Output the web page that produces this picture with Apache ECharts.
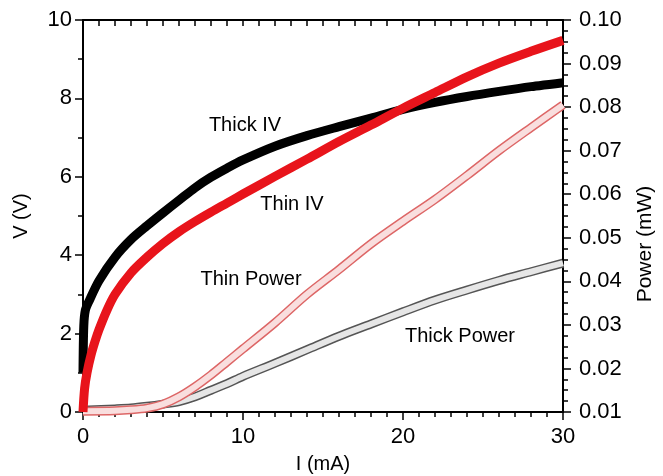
<!DOCTYPE html>
<html>
<head>
<meta charset="utf-8">
<script src="https://cdn.jsdelivr.net/npm/echarts@6/dist/echarts.min.js"></script>
<style>html,body{margin:0;padding:0;background:#fff}#c{width:663px;height:476px}</style>
</head>
<body>
<div id="c"></div>
<script>
// Thick IV (black)
const thickIVCurrent = [0, 0.05, 0.15, 0.4, 1, 2, 3, 4, 5, 6, 7, 8, 9, 10, 12, 14, 16, 18, 20, 22, 24, 26, 28, 30];
const thickIVVoltage = [1.0, 2.2, 2.6, 2.85, 3.35, 3.95, 4.4, 4.75, 5.08, 5.4, 5.72, 5.99, 6.22, 6.43, 6.78, 7.05, 7.28, 7.5, 7.72, 7.9, 8.05, 8.18, 8.3, 8.4];
// Thin IV (red)
const thinIVCurrent = [0, 0.1, 0.25, 0.5, 0.75, 1, 1.5, 2, 3, 4, 5, 6, 7, 8, 9, 10, 12, 14, 16, 18, 20, 22, 24, 26, 28, 30];
const thinIVVoltage = [0, 0.6, 1.0, 1.45, 1.8, 2.1, 2.6, 3.0, 3.55, 3.95, 4.3, 4.6, 4.86, 5.1, 5.33, 5.56, 6.01, 6.45, 6.9, 7.32, 7.75, 8.15, 8.55, 8.9, 9.2, 9.48];
// Power (mW)
const powerCurrent = [0, 2, 3, 4, 5, 6, 7, 8, 9, 10, 12, 14, 16, 18, 20, 22, 24, 26, 28, 30];
const thinPower = [0.0102, 0.0103, 0.0105, 0.0109, 0.0118, 0.0135, 0.0158, 0.0185, 0.0215, 0.0245, 0.0305, 0.037, 0.0427, 0.0486, 0.0538, 0.0588, 0.0643, 0.07, 0.0753, 0.0805];
const thickPower = [0.0104, 0.0107, 0.0109, 0.0113, 0.0118, 0.0124, 0.0135, 0.015, 0.0165, 0.0182, 0.0212, 0.0243, 0.0274, 0.0302, 0.033, 0.0357, 0.038, 0.0402, 0.0422, 0.0442];
// axis ticks
const xTicks = [0, 10, 20, 30];
const vTicks = [0, 2, 4, 6, 8, 10];
const pTicks = [0.01, 0.02, 0.03, 0.04, 0.05, 0.06, 0.07, 0.08, 0.09, 0.10];
// annotations
const annotations = ['Thick IV', 'Thin IV', 'Thin Power', 'Thick Power'];
const powerAxisName = 'Power (mW)';

const zip = (a, b) => a.map((v, i) => [v, b[i]]);
const FONT = 'Liberation Sans, Arial, sans-serif';
const axisLine = {show: true, onZero: false, lineStyle: {color: '#000', width: 2}};
const SM = 0.3;

const chart = echarts.init(document.getElementById('c'));
chart.setOption({
  animation: false,
  backgroundColor: '#fff',
  grid: {left: 83, right: 100, top: 20, bottom: 64, containLabel: false, outerBoundsMode: 'none'},
  xAxis: [{
    type: 'value', min: xTicks[0], max: xTicks[xTicks.length - 1], interval: 10,
    position: 'bottom',
    name: 'I (mA)', nameLocation: 'middle', nameGap: 42,
    nameTextStyle: {fontFamily: FONT, fontSize: 20, color: '#000'},
    axisLine: axisLine,
    axisTick: {show: true, inside: false, length: 8, lineStyle: {color: '#000', width: 1.5}},
    minorTick: {show: true, splitNumber: 10, length: 5, lineStyle: {color: '#000', width: 1.5}},
    axisLabel: {fontFamily: FONT, fontSize: 22, color: '#000', margin: 14},
    splitLine: {show: false}, minorSplitLine: {show: false}
  }, {
    type: 'value', min: 0, max: 30, interval: 1, position: 'top',
    axisLine: axisLine,
    axisTick: {show: true, inside: true, length: 6, lineStyle: {color: '#000', width: 1.5}},
    axisLabel: {show: false}, splitLine: {show: false}
  }],
  yAxis: [{
    type: 'value', min: vTicks[0], max: vTicks[vTicks.length - 1], interval: 2,
    position: 'left',
    name: 'V (V)', nameLocation: 'middle', nameGap: 52, nameRotate: 90,
    nameTextStyle: {fontFamily: FONT, fontSize: 20, color: '#000'},
    axisLine: axisLine,
    axisTick: {show: true, inside: false, length: 8, lineStyle: {color: '#000', width: 1.5}},
    minorTick: {show: true, splitNumber: 2, length: 5, lineStyle: {color: '#000', width: 1.5}},
    axisLabel: {fontFamily: FONT, fontSize: 22, color: '#000', margin: 11},
    splitLine: {show: false}, minorSplitLine: {show: false}
  }, {
    type: 'value', min: pTicks[0], max: pTicks[pTicks.length - 1], interval: 0.01,
    position: 'right',
    axisLine: axisLine,
    axisTick: {show: true, inside: false, length: 8, lineStyle: {color: '#000', width: 1.5}},
    minorTick: {show: true, splitNumber: 4, length: 5, lineStyle: {color: '#000', width: 1.5}},
    axisLabel: {fontFamily: FONT, fontSize: 22, color: '#000', margin: 16,
      formatter: v => v.toFixed(2)},
    splitLine: {show: false}, minorSplitLine: {show: false}
  }],
  series: [
    {name: 'Thick Power', type: 'line', yAxisIndex: 1, data: zip(powerCurrent, thickPower),
      smooth: SM, showSymbol: false, lineStyle: {color: '#555', width: 9, join: 'round'}, z: 2},
    {name: 'Thick Power inner', type: 'line', yAxisIndex: 1, data: zip(powerCurrent, thickPower),
      smooth: SM, showSymbol: false, lineStyle: {color: '#e6e6e6', width: 6, join: 'round'}, z: 3},
    {name: 'Thin Power', type: 'line', yAxisIndex: 1, data: zip(powerCurrent, thinPower),
      smooth: SM, showSymbol: false, lineStyle: {color: '#dd6666', width: 9, join: 'round'}, z: 4},
    {name: 'Thin Power inner', type: 'line', yAxisIndex: 1, data: zip(powerCurrent, thinPower),
      smooth: SM, showSymbol: false, lineStyle: {color: '#f9dede', width: 6, join: 'round'}, z: 5},
    {name: 'Thick IV', type: 'line', yAxisIndex: 0, data: zip(thickIVCurrent, thickIVVoltage),
      smooth: SM, showSymbol: false, lineStyle: {color: '#000', width: 9, join: 'round'}, z: 6},
    {name: 'Thin IV', type: 'line', yAxisIndex: 0, data: zip(thinIVCurrent, thinIVVoltage),
      smooth: SM, showSymbol: false, lineStyle: {color: '#e8141b', width: 9, join: 'round'}, z: 7}
  ],
  graphic: [
    {type: 'text', x: 245, y: 125, style: {text: annotations[0], font: '20px ' + FONT, fill: '#000', align: 'center', verticalAlign: 'middle'}},
    {type: 'text', x: 292, y: 204, style: {text: annotations[1], font: '20px ' + FONT, fill: '#000', align: 'center', verticalAlign: 'middle'}},
    {type: 'text', x: 251, y: 279, style: {text: annotations[2], font: '20px ' + FONT, fill: '#000', align: 'center', verticalAlign: 'middle'}},
    {type: 'text', x: 460, y: 336, style: {text: annotations[3], font: '20px ' + FONT, fill: '#000', align: 'center', verticalAlign: 'middle'}},
    {type: 'text', x: 645, y: 244, rotation: Math.PI / 2, style: {text: powerAxisName, font: '21px ' + FONT, fill: '#000', align: 'center', verticalAlign: 'middle'}}
  ]
});
</script>
</body>
</html>
